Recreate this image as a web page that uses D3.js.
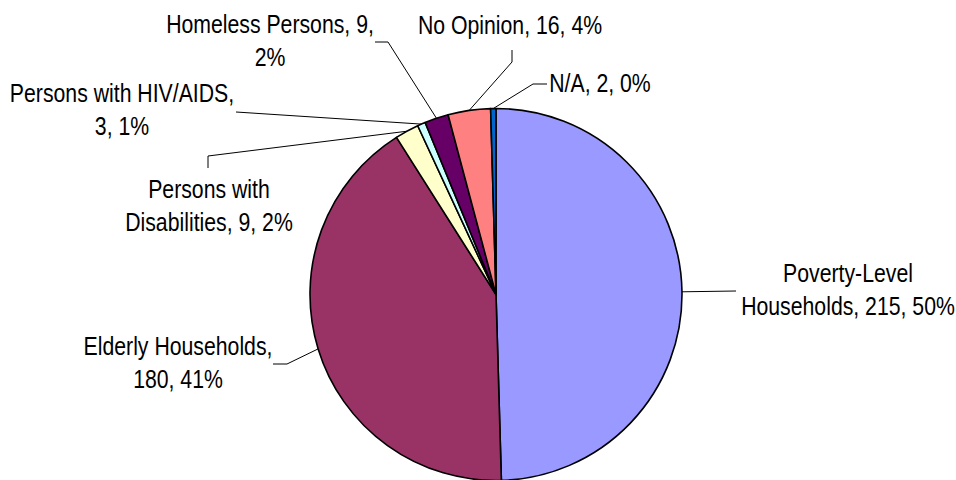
<!DOCTYPE html>
<html>
<head>
<meta charset="utf-8">
<script src="https://cdn.jsdelivr.net/npm/d3@7"></script>
<style>
  body { margin: 0; background: #fff; }
  svg text { font-family: "Liberation Sans Narrow", "Arial Narrow", "Liberation Sans", Arial, sans-serif; font-size: 25px; fill: #000; }
</style>
</head>
<body>
<svg id="chart" width="956" height="480"></svg>
<script>
// Chart data
const categories = ["Poverty-Level Households", "Elderly Households", "Persons with Disabilities",
                    "Persons with HIV/AIDS", "Homeless Persons", "No Opinion", "N/A"];
const values = [215, 180, 9, 3, 9, 16, 2];
const colors = ["#9999FF", "#993366", "#FFFFCC", "#CCFFFF", "#660066", "#FF8080", "#0066CC"];

// Label text lines (as printed) and where they sit
const labelLines = [
  ["Poverty-Level", "Households, 215, 50%"],
  ["Elderly Households,", "180, 41%"],
  ["Persons with", "Disabilities, 9, 2%"],
  ["Persons with HIV/AIDS,", "3, 1%"],
  ["Homeless Persons, 9,", "2%"],
  ["No Opinion, 16, 4%"],
  ["N/A, 2, 0%"]
];
// text centre x, first baseline y
const labelPos = [[848, 282], [178, 355], [209, 198], [122, 102], [270, 33], [510, 34], [600, 92]];
// leader line points on the label side (the last point is on the pie)
const leaderPts = [
  [[736, 291]],
  [[273, 364], [287, 364]],
  [[208, 168], [208, 156]],
  [[236, 112]],
  [[375, 42], [388, 42]],
  [[512, 50], [512, 62]],
  [[547, 84], [533, 84]]
];

const cx = 496, cy = 294.5, radius = 186;
const lineGap = 33;
// no narrow font installed: squeeze the regular one
const squeeze = 0.85;

const svg = d3.select("#chart");

const pie = d3.pie().sort(null).value(d => d)(values);
const arc = d3.arc().innerRadius(0).outerRadius(radius);

const g = svg.append("g").attr("transform", `translate(${cx},${cy})`);

g.selectAll("path.slice")
  .data(pie)
  .join("path")
  .attr("class", "slice")
  .attr("d", arc)
  .attr("fill", (d, i) => colors[i])
  .attr("stroke", "#000")
  .attr("stroke-width", 1.6)
  .attr("stroke-linejoin", "round");

// Leader lines: from the label to the mid-angle on the rim
pie.forEach((d, i) => {
  const a = (d.startAngle + d.endAngle) / 2;
  const rim = [cx + radius * Math.sin(a), cy - radius * Math.cos(a)];
  const pts = leaderPts[i].concat([rim]);
  svg.append("path")
    .attr("d", d3.line()(pts))
    .attr("fill", "none")
    .attr("stroke", "#000")
    .attr("stroke-width", 1);
});

// Labels
labelLines.forEach((lines, i) => {
  const [x, y] = labelPos[i];
  const t = svg.append("text")
    .attr("text-anchor", "middle")
    .attr("transform", `translate(${x},0) scale(${squeeze},1)`);
  lines.forEach((s, j) => {
    t.append("tspan")
      .attr("x", 0)
      .attr("y", y + j * lineGap)
      .text(s);
  });
});
</script>
</body>
</html>
